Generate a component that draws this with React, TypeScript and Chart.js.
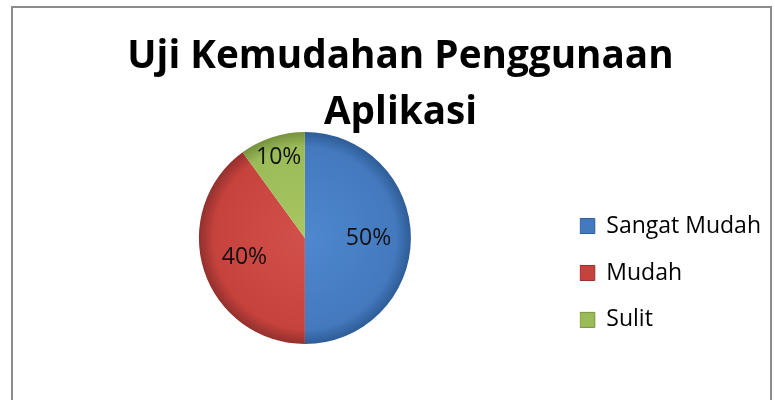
import React, { useEffect, useRef } from "react";
import { Chart, registerables } from "chart.js";

Chart.register(...registerables);

const titleLines = ["Uji Kemudahan Penggunaan", "Aplikasi"];
const categories = ["Sangat Mudah", "Mudah", "Sulit"];
const percentages = [50, 40, 10];

const baseColors = ["#4479BE", "#C6423D", "#9BBB59"];
const lightColors = ["#4E88CF", "#D2504B", "#A8C762"];
const darkColors = ["#2E5C96", "#93302D", "#76923C"];
const labelRadiusFactors = [0.6, 0.6, 0.8];

const pieLabels = {
  id: "pieLabels",
  afterDatasetsDraw(chart: any) {
    const meta = chart.getDatasetMeta(0);
    const ctx = chart.ctx;
    ctx.save();
    ctx.font = "23px 'Open Sans'";
    ctx.fillStyle = "#111111";
    ctx.textAlign = "center";
    ctx.textBaseline = "middle";
    meta.data.forEach((arc: any, i: number) => {
      const p = arc.getProps(["x", "y", "startAngle", "endAngle", "outerRadius"], true);
      const mid = (p.startAngle + p.endAngle) / 2;
      const r = p.outerRadius * labelRadiusFactors[i];
      ctx.fillText(percentages[i] + "%", p.x + Math.cos(mid) * r, p.y + Math.sin(mid) * r);
    });
    ctx.restore();
  },
};

export default function App() {
  const ref = useRef<HTMLCanvasElement | null>(null);

  useEffect(() => {
    if (!ref.current) return;
    const chart = new Chart(ref.current, {
      type: "pie",
      data: {
        labels: categories,
        datasets: [
          {
            data: percentages,
            backgroundColor: (c: any) => {
              const i = c.dataIndex;
              const area = c.chart.chartArea;
              if (!area) return baseColors[i];
              const cx = (area.left + area.right) / 2;
              const cy = (area.top + area.bottom) / 2;
              const g = c.chart.ctx.createRadialGradient(cx, cy, 0, cx, cy, 106);
              g.addColorStop(0, lightColors[i]);
              g.addColorStop(0.86, baseColors[i]);
              g.addColorStop(1, darkColors[i]);
              return g;
            },
            borderWidth: 0,
            radius: 106,
          } as any,
        ],
      },
      options: {
        responsive: false,
        animation: false,
        layout: { padding: { left: 30, right: 4, top: 0, bottom: 44.7 } },
        plugins: {
          title: {
            display: true,
            text: titleLines,
            color: "#000000",
            font: { family: "'Open Sans'", size: 38.7, weight: "bold", lineHeight: 56 / 38.7 },
            padding: { top: 29, bottom: -20.3 },
          },
          legend: {
            display: true,
            position: "right",
            align: "end",
            labels: {
              boxWidth: 15,
              boxHeight: 15,
              padding: 0,
              color: "#000000",
              font: { family: "'Open Sans'", size: 23, lineHeight: 2.04 },
              generateLabels: (ch: any) =>
                categories.map((name, i) => ({
                  text: [name],
                  fillStyle: baseColors[i],
                  strokeStyle: darkColors[i],
                  lineWidth: 1,
                  hidden: false,
                  index: i,
                })),
            },
          },
          tooltip: { enabled: false },
        },
      } as any,
      plugins: [pieLabels],
    });
    return () => chart.destroy();
  }, []);

  return (
    <div style={{ position: "fixed", left: 0, top: 0, width: 775, height: 400, background: "#ffffff", overflow: "hidden" }}>
      <div
        style={{
          position: "absolute",
          left: 11,
          top: 6,
          width: 757,
          height: 500,
          border: "2px solid #8c8c8c",
        }}
      />
      <canvas ref={ref} width={775} height={400} style={{ position: "absolute", left: 0, top: 0 }} />
    </div>
  );
}
